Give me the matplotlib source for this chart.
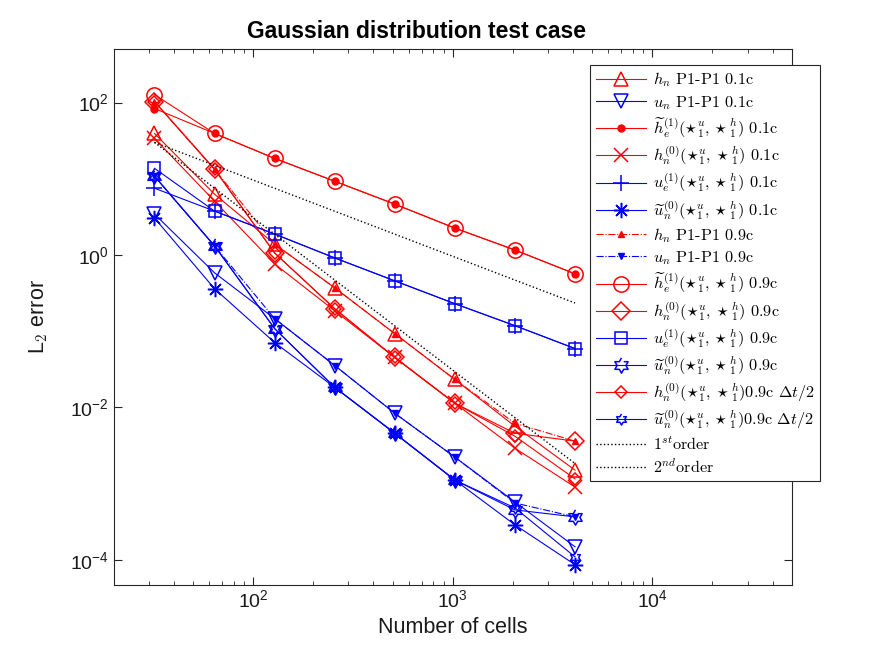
import numpy as np
import matplotlib
matplotlib.use("Agg")
import matplotlib.pyplot as plt
from matplotlib.ticker import LogLocator, NullLocator, FixedLocator

plt.rcParams['font.family'] = ['Liberation Sans', 'DejaVu Sans']
plt.rcParams['mathtext.fontset'] = 'cm'
plt.rcParams['axes.formatter.use_mathtext'] = True

# number of cells
cells = [32, 64, 128, 256, 512, 1024, 2048, 4096]

# CFL 0.1c
hn_p1_01 = [39.3, 6.27, 1.39, 0.370, 0.0927, 0.0232, 0.00565, 0.00150]
un_p1_01 = [3.44, 0.582, 0.146, 0.0354, 0.00835, 0.00222, 0.000573, 0.000148]
he1_01 = [83.5, 39.3, 18.5, 9.27, 4.64, 2.25, 1.16, 0.565]
hn0_01 = [33.8, 5.08, 0.762, 0.185, 0.0451, 0.0113, 0.00291, 0.00090]
ue1_01 = [7.51, 3.76, 1.88, 0.914, 0.457, 0.229, 0.118, 0.0591]
un0_01 = [3.05, 0.360, 0.0708, 0.0183, 0.00457, 0.00111, 0.000287, 0.0000861]

# CFL 0.9c
hn_p1_09 = [103, 13.3, 1.39, 0.370, 0.0927, 0.0232, 0.00618, 0.00360]
un_p1_09 = [10.8, 1.31, 0.146, 0.0354, 0.00835, 0.00222, 0.000556, 0.000365]
he1_09 = [127, 39.3, 18.5, 9.27, 4.64, 2.25, 1.16, 0.565]
hn0_09 = [103, 13.3, 1.06, 0.197, 0.0451, 0.0113, 0.00457, 0.00360]
ue1_09 = [13.7, 3.76, 1.88, 0.914, 0.457, 0.229, 0.118, 0.0591]
un0_09 = [10.8, 1.31, 0.108, 0.0183, 0.00457, 0.00111, 0.000451, 0.000365]

# CFL 0.9c, half time step
hn0_09_dt2 = [103, 13.3, 1.06, 0.197, 0.0451, 0.0113, 0.00418, 0.00115]
un0_09_dt2 = [10.8, 1.31, 0.108, 0.0183, 0.00457, 0.00111, 0.000479, 0.000109]

# reference slopes (end points)
ref_cells = [32, 4096]
ref_1st = [30, 0.234]
ref_2nd = [30, 0.00183]

R = '#FF0000'
B = '#0000FF'

# six-pointed star like the matlab hexagram
ang = np.pi / 2 + np.arange(12) * np.pi / 6
rad = np.where(np.arange(12) % 2 == 0, 1.0, 0.577)
hexagram = list(zip(rad * np.cos(ang), rad * np.sin(ang)))

fig = plt.figure(figsize=(8.75, 6.57), dpi=100)
ax = fig.add_axes([0.13, 0.11, 0.775, 0.815])

lw = 0.8
ax.loglog(cells, hn_p1_01, '-', color=R, lw=lw, marker='^', ms=10.5, mfc='none', mew=1.1,
          label=r'$h_n$ P1-P1 0.1c')
ax.loglog(cells, un_p1_01, '-', color=B, lw=lw, marker='v', ms=10.5, mfc='none', mew=1.1,
          label=r'$u_n$ P1-P1 0.1c')
ax.loglog(cells, he1_01, '-', color=R, lw=lw, marker='o', ms=5, mfc=R, mew=1.0,
          label=r'$\widetilde{h}_e^{(1)}(\star_1^u,\star_1^h)$ 0.1c')
ax.loglog(cells, hn0_01, '-', color=R, lw=lw, marker='x', ms=10, mew=1.1,
          label=r'$h_n^{(0)}(\star_1^u,\star_1^h)$ 0.1c')
ax.loglog(cells, ue1_01, '-', color=B, lw=lw, marker='+', ms=12, mew=1.1,
          label=r'$u_e^{(1)}(\star_1^u,\star_1^h)$ 0.1c')
ax.loglog(cells, un0_01, '-', color=B, lw=lw, marker=(8, 2, 0), ms=11, mew=1.1,
          label=r'$\widetilde{u}_n^{(0)}(\star_1^u,\star_1^h)$ 0.1c')
ax.loglog(cells, hn_p1_09, '-.', color=R, lw=lw, marker='^', ms=5, mfc=R, mew=1.0,
          label=r'$h_n$ P1-P1 0.9c')
ax.loglog(cells, un_p1_09, '-.', color=B, lw=lw, marker='v', ms=5, mfc=B, mew=1.0,
          label=r'$u_n$ P1-P1 0.9c')
ax.loglog(cells, he1_09, '-', color=R, lw=lw, marker='o', ms=11, mfc='none', mew=1.1,
          label=r'$\widetilde{h}_e^{(1)}(\star_1^u,\star_1^h)$ 0.9c')
ax.loglog(cells, hn0_09, '-', color=R, lw=lw, marker='D', ms=9, mfc='none', mew=1.1,
          label=r'$h_n^{(0)}(\star_1^u,\star_1^h)$ 0.9c')
ax.loglog(cells, ue1_09, '-', color=B, lw=lw, marker='s', ms=9, mfc='none', mew=1.1,
          label=r'$u_e^{(1)}(\star_1^u,\star_1^h)$ 0.9c')
ax.loglog(cells, un0_09, '-', color=B, lw=lw, marker=hexagram, ms=11, mfc='none', mew=1.1,
          label=r'$\widetilde{u}_n^{(0)}(\star_1^u,\star_1^h)$ 0.9c')
ax.loglog(cells, hn0_09_dt2, '-', color=R, lw=lw, marker='D', ms=6, mfc='none', mew=1.1,
          label=r'$h_n^{(0)}(\star_1^u,\star_1^h)$0.9c $\Delta t/2$')
ax.loglog(cells, un0_09_dt2, '-', color=B, lw=lw, marker=hexagram, ms=8, mfc='none', mew=1.1,
          label=r'$\widetilde{u}_n^{(0)}(\star_1^u,\star_1^h)$0.9c $\Delta t/2$')
ax.loglog(ref_cells, ref_1st, ':', color='k', lw=1.0, label=r'$1^{st}$order')
ax.loglog(ref_cells, ref_2nd, ':', color='k', lw=1.0, label=r'$2^{nd}$order')

ax.set_xlim(20, 5e4)
ax.set_ylim(4.7e-5, 500)
ax.yaxis.set_major_locator(FixedLocator([1e-4, 1e-2, 1e0, 1e2]))
ax.yaxis.set_minor_locator(NullLocator())
ax.xaxis.set_major_locator(LogLocator(base=10, numticks=10))
ax.xaxis.set_minor_locator(LogLocator(base=10, subs=np.arange(2, 10), numticks=20))

axc = '#262626'
for s in ax.spines.values():
    s.set_color(axc)
    s.set_linewidth(0.8)
ax.tick_params(which='both', direction='in', top=True, right=True, colors=axc,
               labelsize=14, labelcolor='#1a1a1a')
ax.tick_params(which='major', length=6, width=0.8)
ax.tick_params(which='minor', length=3, width=0.6)

ax.set_xlabel('Number of cells', fontsize=15.5, color='#1a1a1a')
ax.set_ylabel(r'L$_2$ error', fontsize=15.5, color='#1a1a1a', labelpad=14)
ax.set_title('Gaussian distribution test case', fontsize=16.5, fontweight='bold',
             pad=8, x=0.446)

leg = ax.legend(loc='upper left', bbox_to_anchor=(590 / 875, 1 - 65 / 657),
                bbox_transform=fig.transFigure, borderaxespad=0, numpoints=1,
                prop={'family': 'cmr10', 'size': 11.7}, handlelength=3.1,
                handletextpad=0.4, labelspacing=0.27, borderpad=0.35,
                fancybox=False, framealpha=1)
leg.get_frame().set_edgecolor(axc)
leg.get_frame().set_linewidth(0.8)

fig.savefig('out.png', dpi=100)
